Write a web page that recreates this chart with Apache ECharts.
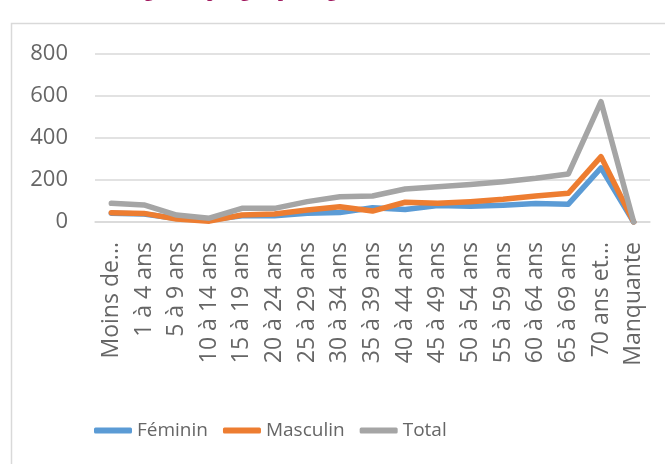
<!DOCTYPE html>
<html>
<head>
<meta charset="utf-8">
<script src="https://cdn.jsdelivr.net/npm/echarts@6/dist/echarts.min.js"></script>
<style>
html,body{margin:0;padding:0;background:#fff;}
#chart{width:665px;height:464px;}
</style>
</head>
<body>
<div id="chart"></div>
<script>
const categories = ["Moins de...", "1 à 4 ans", "5 à 9 ans", "10 à 14 ans", "15 à 19 ans", "20 à 24 ans", "25 à 29 ans", "30 à 34 ans", "35 à 39 ans", "40 à 44 ans", "45 à 49 ans", "50 à 54 ans", "55 à 59 ans", "60 à 64 ans", "65 à 69 ans", "70 ans et...", "Manquante"];
const feminin  = [42, 38, 17, 10, 30, 30, 42, 45, 68, 60, 78, 75, 80, 88, 85, 258, 0];
const masculin = [44, 41, 14, 4, 33, 38, 57, 73, 52, 94, 89, 97, 108, 124, 137, 311, 0];
const total    = [89, 81, 33, 18, 65, 65, 97, 120, 124, 157, 168, 179, 192, 208, 229, 573, 0];
const yTicks = [0, 200, 400, 600, 800];
const seriesNames = ["Féminin", "Masculin", "Total"];
const colors = ["#5B9BD5", "#ED7D31", "#A5A5A5"];

const chart = echarts.init(document.getElementById('chart'), null, {renderer: 'canvas'});
const mk = (name, data, color) => ({
  name, type: 'line', data, symbol: 'none', smooth: false,
  lineStyle: {color, width: 5.5, join: 'round', cap: 'round'},
  itemStyle: {color}
});
chart.setOption({
  animation: false,
  color: colors,
  graphic: [
    {type: 'rect', shape: {x: 11.5, y: 23.5, width: 700, height: 500},
     style: {fill: 'none', stroke: '#D9D9D9', lineWidth: 1.5}, z: -1},
    {type: 'text', x: 57, y: 0,
     style: {text: "Morbidité globale par groupe d'âge", fill: '#A0185E', x: 0, y: 1.5,
             verticalAlign: 'bottom', align: 'left',
             font: 'bold 19px "Liberation Serif", serif'}}
  ],
  grid: {left: 95, right: 15, top: 54, bottom: 242, containLabel: false},
  xAxis: {
    type: 'category', data: categories, boundaryGap: true,
    axisLine: {show: true, lineStyle: {color: '#D9D9D9', width: 1.5}},
    axisTick: {show: false},
    axisLabel: {interval: 0, rotate: 90, margin: 20, color: '#666666',
                fontFamily: 'Open Sans', fontSize: 23}
  },
  yAxis: {
    type: 'value', min: yTicks[0], max: yTicks[yTicks.length - 1], interval: 200,
    axisLine: {show: false}, axisTick: {show: false},
    splitLine: {lineStyle: {color: '#D9D9D9', width: 1.5}},
    axisLabel: {color: '#666666', fontFamily: 'Open Sans', fontSize: 22, margin: 27}
  },
  legend: {
    left: 89, top: 416, itemWidth: 38, itemHeight: 6, itemGap: 15,
    icon: 'roundRect',
    textStyle: {color: '#666666', fontFamily: 'Open Sans', fontSize: 19},
    data: seriesNames
  },
  series: [
    mk(seriesNames[0], feminin, colors[0]),
    mk(seriesNames[1], masculin, colors[1]),
    mk(seriesNames[2], total, colors[2])
  ]
});
</script>
</body>
</html>
